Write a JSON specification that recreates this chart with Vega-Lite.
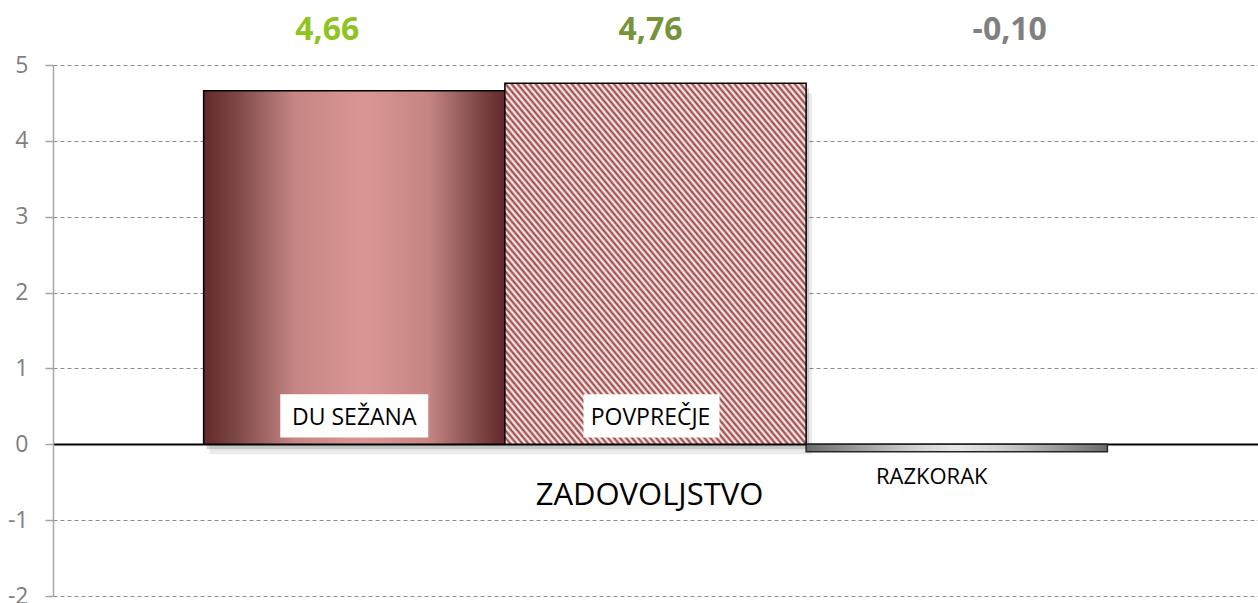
{
 "$schema":"https://vega.github.io/schema/vega-lite/v6.json",
 "width":1205,"height":531,
 "autosize":{"type":"none"},
 "padding":{"left":53,"top":65,"right":0,"bottom":7},
 "background":"white",
 "config":{
   "view":{"stroke":null},
   "font":"Open Sans",
   "locale":{"number":{"decimal":",","thousands":".","grouping":[3],"currency":["","\u00a0€"],"minus":"-"}}
 },
 "data":{"values":[
   {"kategorija":"DU SEŽANA","vrednost":4.66},
   {"kategorija":"POVPREČJE","vrednost":4.76},
   {"kategorija":"RAZKORAK","vrednost":-0.10}
 ]},
 "encoding":{
   "x":{"field":"kategorija","type":"nominal","sort":null,
        "scale":{"paddingInner":0,"paddingOuter":0.5},
        "axis":{"title":"ZADOVOLJSTVO","labels":false,"ticks":false,"domain":false,"grid":false,
                "titleFontSize":31,"titleFontWeight":"normal","titleColor":"#000000","titleFont":"Open Sans",
                "titleX":596,"titleY":-92,"titleBaseline":"alphabetic","titleAlign":"center"}},
   "y":{"field":"vrednost","type":"quantitative",
        "scale":{"domain":[-2,5],"nice":false,"zero":false},
        "axis":{"title":null,"values":[-2,-1,0,1,2,3,4,5],"format":"d",
                "labelFontSize":23,"labelColor":"#7f7f7f","labelPadding":17,"labelFont":"Open Sans",
                "tickSize":8,"tickColor":"#a6a6a6","tickWidth":1.5,
                "domainColor":"#a6a6a6","domainWidth":1.5,
                "grid":true,
                "gridColor":{"condition":{"test":"datum.value === 0","value":"#000000"},"value":"#8c8c8c"},
                "gridDash":{"condition":{"test":"datum.value === 0","value":[]},"value":[4,3]},
                "gridWidth":{"condition":{"test":"datum.value === 0","value":1.8},"value":1}}}
 },
 "layer":[
  {"transform":[{"filter":"datum.vrednost > 0"}],
   "mark":{"type":"bar","color":"#000000","opacity":0.08,"xOffset":6,"yOffset":10}},
  {"transform":[{"filter":"datum.vrednost > 0"}],
   "mark":{"type":"bar","color":"#000000","opacity":0.15,"xOffset":3,"yOffset":5}},
  {"transform":[{"filter":"datum.kategorija === 'DU SEŽANA'"}],
   "mark":{"type":"bar","stroke":"#000000","strokeWidth":1.5,"opacity":1,
     "fill":{"gradient":"linear","x1":0,"y1":0,"x2":1,"y2":0,"stops":[
       {"offset":0,"color":"#64282a"},
       {"offset":0.1,"color":"#7b4545"},
       {"offset":0.3,"color":"#c48583"},
       {"offset":0.53,"color":"#da9694"},
       {"offset":0.75,"color":"#c48583"},
       {"offset":0.92,"color":"#7b4545"},
       {"offset":1,"color":"#64282a"}]}}},
  {"transform":[{"filter":"datum.kategorija === 'POVPREČJE'"}],
   "mark":{"type":"bar","stroke":"#000000","strokeWidth":1.5,"opacity":1,
     "fill":{"gradient":"linear","x1":0,"y1":1,"x2":1,"y2":0,"stops":[
{"offset":0,"color":"#9e3a3a"},{"offset":0.005,"color":"#ffffff"},
{"offset":0.01,"color":"#9e3a3a"},{"offset":0.015,"color":"#ffffff"},
{"offset":0.02,"color":"#9e3a3a"},{"offset":0.025,"color":"#ffffff"},
{"offset":0.03,"color":"#9e3a3a"},{"offset":0.035,"color":"#ffffff"},
{"offset":0.04,"color":"#9e3a3a"},{"offset":0.045,"color":"#ffffff"},
{"offset":0.05,"color":"#9e3a3a"},{"offset":0.055,"color":"#ffffff"},
{"offset":0.06,"color":"#9e3a3a"},{"offset":0.065,"color":"#ffffff"},
{"offset":0.07,"color":"#9e3a3a"},{"offset":0.075,"color":"#ffffff"},
{"offset":0.08,"color":"#9e3a3a"},{"offset":0.085,"color":"#ffffff"},
{"offset":0.09,"color":"#9e3a3a"},{"offset":0.095,"color":"#ffffff"},
{"offset":0.1,"color":"#9e3a3a"},{"offset":0.105,"color":"#ffffff"},
{"offset":0.11,"color":"#9e3a3a"},{"offset":0.115,"color":"#ffffff"},
{"offset":0.12,"color":"#9e3a3a"},{"offset":0.125,"color":"#ffffff"},
{"offset":0.13,"color":"#9e3a3a"},{"offset":0.135,"color":"#ffffff"},
{"offset":0.14,"color":"#9e3a3a"},{"offset":0.145,"color":"#ffffff"},
{"offset":0.15,"color":"#9e3a3a"},{"offset":0.155,"color":"#ffffff"},
{"offset":0.16,"color":"#9e3a3a"},{"offset":0.165,"color":"#ffffff"},
{"offset":0.17,"color":"#9e3a3a"},{"offset":0.175,"color":"#ffffff"},
{"offset":0.18,"color":"#9e3a3a"},{"offset":0.185,"color":"#ffffff"},
{"offset":0.19,"color":"#9e3a3a"},{"offset":0.195,"color":"#ffffff"},
{"offset":0.2,"color":"#9e3a3a"},{"offset":0.205,"color":"#ffffff"},
{"offset":0.21,"color":"#9e3a3a"},{"offset":0.215,"color":"#ffffff"},
{"offset":0.22,"color":"#9e3a3a"},{"offset":0.225,"color":"#ffffff"},
{"offset":0.23,"color":"#9e3a3a"},{"offset":0.235,"color":"#ffffff"},
{"offset":0.24,"color":"#9e3a3a"},{"offset":0.245,"color":"#ffffff"},
{"offset":0.25,"color":"#9e3a3a"},{"offset":0.255,"color":"#ffffff"},
{"offset":0.26,"color":"#9e3a3a"},{"offset":0.265,"color":"#ffffff"},
{"offset":0.27,"color":"#9e3a3a"},{"offset":0.275,"color":"#ffffff"},
{"offset":0.28,"color":"#9e3a3a"},{"offset":0.285,"color":"#ffffff"},
{"offset":0.29,"color":"#9e3a3a"},{"offset":0.295,"color":"#ffffff"},
{"offset":0.3,"color":"#9e3a3a"},{"offset":0.305,"color":"#ffffff"},
{"offset":0.31,"color":"#9e3a3a"},{"offset":0.315,"color":"#ffffff"},
{"offset":0.32,"color":"#9e3a3a"},{"offset":0.325,"color":"#ffffff"},
{"offset":0.33,"color":"#9e3a3a"},{"offset":0.335,"color":"#ffffff"},
{"offset":0.34,"color":"#9e3a3a"},{"offset":0.345,"color":"#ffffff"},
{"offset":0.35,"color":"#9e3a3a"},{"offset":0.355,"color":"#ffffff"},
{"offset":0.36,"color":"#9e3a3a"},{"offset":0.365,"color":"#ffffff"},
{"offset":0.37,"color":"#9e3a3a"},{"offset":0.375,"color":"#ffffff"},
{"offset":0.38,"color":"#9e3a3a"},{"offset":0.385,"color":"#ffffff"},
{"offset":0.39,"color":"#9e3a3a"},{"offset":0.395,"color":"#ffffff"},
{"offset":0.4,"color":"#9e3a3a"},{"offset":0.405,"color":"#ffffff"},
{"offset":0.41,"color":"#9e3a3a"},{"offset":0.415,"color":"#ffffff"},
{"offset":0.42,"color":"#9e3a3a"},{"offset":0.425,"color":"#ffffff"},
{"offset":0.43,"color":"#9e3a3a"},{"offset":0.435,"color":"#ffffff"},
{"offset":0.44,"color":"#9e3a3a"},{"offset":0.445,"color":"#ffffff"},
{"offset":0.45,"color":"#9e3a3a"},{"offset":0.455,"color":"#ffffff"},
{"offset":0.46,"color":"#9e3a3a"},{"offset":0.465,"color":"#ffffff"},
{"offset":0.47,"color":"#9e3a3a"},{"offset":0.475,"color":"#ffffff"},
{"offset":0.48,"color":"#9e3a3a"},{"offset":0.485,"color":"#ffffff"},
{"offset":0.49,"color":"#9e3a3a"},{"offset":0.495,"color":"#ffffff"},
{"offset":0.5,"color":"#9e3a3a"},{"offset":0.505,"color":"#ffffff"},
{"offset":0.51,"color":"#9e3a3a"},{"offset":0.515,"color":"#ffffff"},
{"offset":0.52,"color":"#9e3a3a"},{"offset":0.525,"color":"#ffffff"},
{"offset":0.53,"color":"#9e3a3a"},{"offset":0.535,"color":"#ffffff"},
{"offset":0.54,"color":"#9e3a3a"},{"offset":0.545,"color":"#ffffff"},
{"offset":0.55,"color":"#9e3a3a"},{"offset":0.555,"color":"#ffffff"},
{"offset":0.56,"color":"#9e3a3a"},{"offset":0.565,"color":"#ffffff"},
{"offset":0.57,"color":"#9e3a3a"},{"offset":0.575,"color":"#ffffff"},
{"offset":0.58,"color":"#9e3a3a"},{"offset":0.585,"color":"#ffffff"},
{"offset":0.59,"color":"#9e3a3a"},{"offset":0.595,"color":"#ffffff"},
{"offset":0.6,"color":"#9e3a3a"},{"offset":0.605,"color":"#ffffff"},
{"offset":0.61,"color":"#9e3a3a"},{"offset":0.615,"color":"#ffffff"},
{"offset":0.62,"color":"#9e3a3a"},{"offset":0.625,"color":"#ffffff"},
{"offset":0.63,"color":"#9e3a3a"},{"offset":0.635,"color":"#ffffff"},
{"offset":0.64,"color":"#9e3a3a"},{"offset":0.645,"color":"#ffffff"},
{"offset":0.65,"color":"#9e3a3a"},{"offset":0.655,"color":"#ffffff"},
{"offset":0.66,"color":"#9e3a3a"},{"offset":0.665,"color":"#ffffff"},
{"offset":0.67,"color":"#9e3a3a"},{"offset":0.675,"color":"#ffffff"},
{"offset":0.68,"color":"#9e3a3a"},{"offset":0.685,"color":"#ffffff"},
{"offset":0.69,"color":"#9e3a3a"},{"offset":0.695,"color":"#ffffff"},
{"offset":0.7,"color":"#9e3a3a"},{"offset":0.705,"color":"#ffffff"},
{"offset":0.71,"color":"#9e3a3a"},{"offset":0.715,"color":"#ffffff"},
{"offset":0.72,"color":"#9e3a3a"},{"offset":0.725,"color":"#ffffff"},
{"offset":0.73,"color":"#9e3a3a"},{"offset":0.735,"color":"#ffffff"},
{"offset":0.74,"color":"#9e3a3a"},{"offset":0.745,"color":"#ffffff"},
{"offset":0.75,"color":"#9e3a3a"},{"offset":0.755,"color":"#ffffff"},
{"offset":0.76,"color":"#9e3a3a"},{"offset":0.765,"color":"#ffffff"},
{"offset":0.77,"color":"#9e3a3a"},{"offset":0.775,"color":"#ffffff"},
{"offset":0.78,"color":"#9e3a3a"},{"offset":0.785,"color":"#ffffff"},
{"offset":0.79,"color":"#9e3a3a"},{"offset":0.795,"color":"#ffffff"},
{"offset":0.8,"color":"#9e3a3a"},{"offset":0.805,"color":"#ffffff"},
{"offset":0.81,"color":"#9e3a3a"},{"offset":0.815,"color":"#ffffff"},
{"offset":0.82,"color":"#9e3a3a"},{"offset":0.825,"color":"#ffffff"},
{"offset":0.83,"color":"#9e3a3a"},{"offset":0.835,"color":"#ffffff"},
{"offset":0.84,"color":"#9e3a3a"},{"offset":0.845,"color":"#ffffff"},
{"offset":0.85,"color":"#9e3a3a"},{"offset":0.855,"color":"#ffffff"},
{"offset":0.86,"color":"#9e3a3a"},{"offset":0.865,"color":"#ffffff"},
{"offset":0.87,"color":"#9e3a3a"},{"offset":0.875,"color":"#ffffff"},
{"offset":0.88,"color":"#9e3a3a"},{"offset":0.885,"color":"#ffffff"},
{"offset":0.89,"color":"#9e3a3a"},{"offset":0.895,"color":"#ffffff"},
{"offset":0.9,"color":"#9e3a3a"},{"offset":0.905,"color":"#ffffff"},
{"offset":0.91,"color":"#9e3a3a"},{"offset":0.915,"color":"#ffffff"},
{"offset":0.92,"color":"#9e3a3a"},{"offset":0.925,"color":"#ffffff"},
{"offset":0.93,"color":"#9e3a3a"},{"offset":0.935,"color":"#ffffff"},
{"offset":0.94,"color":"#9e3a3a"},{"offset":0.945,"color":"#ffffff"},
{"offset":0.95,"color":"#9e3a3a"},{"offset":0.955,"color":"#ffffff"},
{"offset":0.96,"color":"#9e3a3a"},{"offset":0.965,"color":"#ffffff"},
{"offset":0.97,"color":"#9e3a3a"},{"offset":0.975,"color":"#ffffff"},
{"offset":0.98,"color":"#9e3a3a"},{"offset":0.985,"color":"#ffffff"},
{"offset":0.99,"color":"#9e3a3a"},{"offset":0.995,"color":"#ffffff"},
{"offset":1,"color":"#9e3a3a"}]}}},
  {"transform":[{"filter":"datum.kategorija === 'RAZKORAK'"}],
   "mark":{"type":"bar","stroke":"#262626","strokeWidth":1.5,"opacity":1,
     "fill":{"gradient":"linear","x1":0,"y1":0,"x2":1,"y2":0,"stops":[
       {"offset":0,"color":"#6b6b6b"},
       {"offset":0.35,"color":"#cfcfcf"},
       {"offset":0.5,"color":"#e6e6e6"},
       {"offset":0.65,"color":"#cfcfcf"},
       {"offset":1,"color":"#6b6b6b"}]}}},
  {"transform":[{"filter":"datum.kategorija === 'DU SEŽANA'"}],
   "mark":{"type":"bar","color":"#ffffff","opacity":1,"width":148},
   "encoding":{"y":{"datum":0.66,"type":"quantitative"},"y2":{"datum":0.09}}},
  {"transform":[{"filter":"datum.kategorija === 'POVPREČJE'"}],
   "mark":{"type":"bar","color":"#ffffff","opacity":1,"width":136,"xOffset":-4},
   "encoding":{"y":{"datum":0.66,"type":"quantitative"},"y2":{"datum":0.09}}},
  {"transform":[{"filter":"datum.kategorija === 'DU SEŽANA'"}],
   "mark":{"type":"text","fontSize":23,"baseline":"alphabetic","color":"#000000","font":"Open Sans"},
   "encoding":{"y":{"datum":0.25,"type":"quantitative"},"text":{"field":"kategorija"}}},
  {"transform":[{"filter":"datum.kategorija === 'POVPREČJE'"}],
   "mark":{"type":"text","fontSize":23,"baseline":"alphabetic","color":"#000000","font":"Open Sans","dx":-5},
   "encoding":{"y":{"datum":0.25,"type":"quantitative"},"text":{"field":"kategorija"}}},
  {"transform":[{"filter":"datum.kategorija === 'RAZKORAK'"}],
   "mark":{"type":"text","fontSize":22,"baseline":"alphabetic","color":"#000000","font":"Open Sans","dx":-25},
   "encoding":{"y":{"datum":-0.53,"type":"quantitative"},"text":{"field":"kategorija"}}},
  {"transform":[{"filter":"datum.kategorija === 'DU SEŽANA'"}],
   "mark":{"type":"text","fontSize":32,"fontWeight":"bold","baseline":"alphabetic","color":"#8fc31f","font":"Open Sans","dx":-27},
   "encoding":{"y":{"datum":5.325,"type":"quantitative"},"text":{"field":"vrednost","type":"quantitative","format":".2f"}}},
  {"transform":[{"filter":"datum.kategorija === 'POVPREČJE'"}],
   "mark":{"type":"text","fontSize":32,"fontWeight":"bold","baseline":"alphabetic","color":"#77933c","font":"Open Sans","dx":-5},
   "encoding":{"y":{"datum":5.325,"type":"quantitative"},"text":{"field":"vrednost","type":"quantitative","format":".2f"}}},
  {"transform":[{"filter":"datum.kategorija === 'RAZKORAK'"}],
   "mark":{"type":"text","fontSize":32,"fontWeight":"bold","baseline":"alphabetic","color":"#808080","font":"Open Sans","dx":53},
   "encoding":{"y":{"datum":5.325,"type":"quantitative"},"text":{"field":"vrednost","type":"quantitative","format":".2f"}}}
 ]
}
